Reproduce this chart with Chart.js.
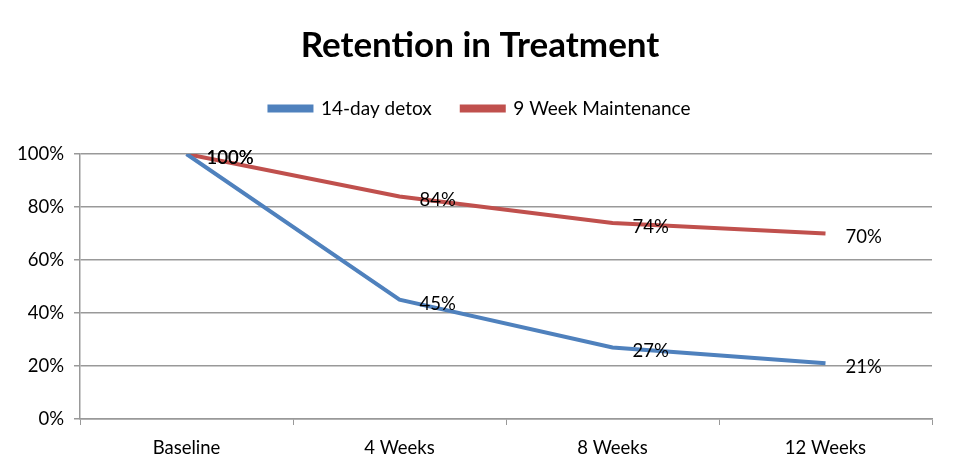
<!DOCTYPE html>
<html>
<head>
<meta charset="utf-8">
<script src="https://cdn.jsdelivr.net/npm/chart.js@4"></script>
<style>
  html, body { margin: 0; padding: 0; background: #fff; }
  #wrap { width: 960px; height: 472px; }
</style>
</head>
<body>
<div id="wrap"><canvas id="retentionChart"></canvas></div>
<script>
// data
var categories = ['Baseline', '4 Weeks', '8 Weeks', '12 Weeks'];
var detox = [100, 45, 27, 21];
var maintenance = [100, 84, 74, 70];
var yTicks = [0, 20, 40, 60, 80, 100];

var FONT = 'Lato, "Open Sans", sans-serif';

// labels to the right of each point
var pointLabels = {
  id: 'pointLabels',
  afterDatasetsDraw: function (chart) {
    var ctx = chart.ctx;
    ctx.save();
    ctx.font = '18.5px ' + FONT;
    ctx.fillStyle = '#000';
    ctx.textAlign = 'left';
    ctx.textBaseline = 'middle';
    chart.data.datasets.forEach(function (ds, i) {
      chart.getDatasetMeta(i).data.forEach(function (pt, j) {
        ctx.fillText(ds.data[j] + '%', pt.x + 20, pt.y + 4);
      });
    });
    ctx.restore();
  }
};

// more room under the legend, and title + legend centred on the whole width
var headerLayout = {
  id: 'headerLayout',
  beforeInit: function (chart) {
    var fit = chart.legend.fit;
    chart.legend.fit = function () {
      fit.call(this);
      this.height = 85;
    };
  },
  afterLayout: function (chart) {
    [chart.titleBlock, chart.legend].forEach(function (box) {
      if (box) { box.left = 0; box.right = chart.width; }
    });
  }
};

document.addEventListener('DOMContentLoaded', function () {
  var ctx = document.getElementById('retentionChart').getContext('2d');
  new Chart(ctx, {
    type: 'line',
    data: {
      labels: categories,
      datasets: [{
        label: '14-day detox',
        data: detox,
        borderColor: '#4F81BD',
        backgroundColor: '#4F81BD',
        borderWidth: 4,
        pointRadius: 0,
        fill: false
      }, {
        label: '9 Week Maintenance',
        data: maintenance,
        borderColor: '#C0504D',
        backgroundColor: '#C0504D',
        borderWidth: 4,
        pointRadius: 0,
        fill: false
      }]
    },
    plugins: [pointLabels, headerLayout],
    options: {
      responsive: true,
      maintainAspectRatio: false,
      animation: false,
      layout: { padding: { left: 0, right: 28, top: 0, bottom: 0 } },
      plugins: {
        title: {
          display: true,
          text: 'Retention in Treatment',
          color: '#000',
          font: { family: FONT, size: 35, weight: 'bold' },
          padding: { top: 25, bottom: 2 }
        },
        legend: {
          display: true,
          labels: {
            color: '#000',
            font: { family: FONT, size: 19 },
            boxWidth: 42,
            boxHeight: 4,
            padding: 30
          }
        },
        tooltip: { enabled: false }
      },
      scales: {
        x: {
          offset: true,
          afterFit: function (scale) { scale.height = 53; },
          grid: {
            offset: true,
            drawOnChartArea: false,
            drawTicks: true,
            tickLength: 6,
            color: '#999'
          },
          border: { color: '#999', width: 1.5 },
          ticks: {
            color: '#000',
            font: { family: FONT, size: 18.5 },
            padding: 12
          }
        },
        y: {
          min: 0,
          max: 100,
          afterFit: function (scale) { scale.width = 80; },
          afterBuildTicks: function (scale) {
            scale.ticks = yTicks.map(function (v) { return { value: v }; });
          },
          grid: {
            color: '#999',
            lineWidth: 1.5,
            tickLength: 6
          },
          border: { color: '#999', width: 1.5 },
          ticks: {
            color: '#000',
            font: { family: FONT, size: 18.5 },
            padding: 10,
            callback: function (v) { return v + '%'; }
          }
        }
      }
    }
  });
});
</script>
</body>
</html>
